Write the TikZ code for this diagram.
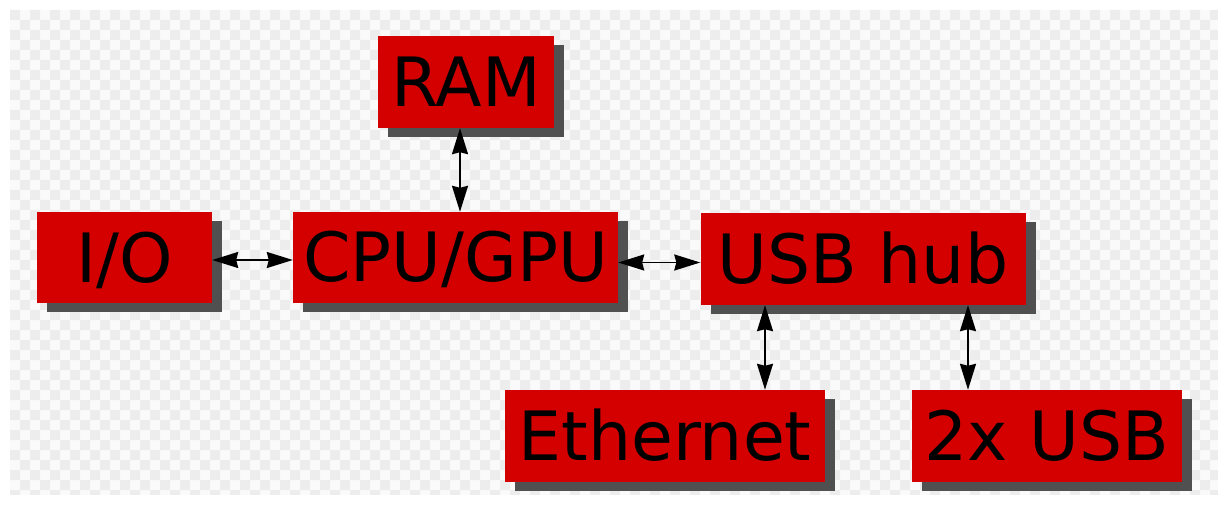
\documentclass[tikz,border=0pt]{standalone}
\usepackage{fontspec}
\setmainfont{DejaVu Sans}
\usetikzlibrary{arrows.meta,shadows}
\definecolor{boxred}{RGB}{212,0,0}
\definecolor{shadowgray}{RGB}{80,80,80}
\definecolor{checklight}{RGB}{250,250,250}
\definecolor{checkdark}{RGB}{237,237,237}
\tikzset{
  blockbox/.style={fill=boxred, draw=none, inner sep=0pt,
    font=\fontsize{68}{68}\selectfont, text=black,
    text height=49pt, text depth=0pt,
    general shadow={shadow xshift=10pt, shadow yshift=-9pt, fill=shadowgray}},
  biarrow/.style={line width=1.8pt, draw=black,
    {Stealth[length=26pt,width=16pt,inset=2pt]}-{Stealth[length=26pt,width=16pt,inset=2pt]}}
}
\begin{document}
\begin{tikzpicture}[x=1pt,y=-1pt]
\useasboundingbox (0,0) rectangle (1227,505);
\fill[white] (0,0) rectangle (1227,505);
\fill[checklight] (10,10) rectangle (1218,495);
\fill[checkdark] \foreach \i in {0,2,...,120} { \foreach \j in {0,2,...,48} {
  (10+\i*10,10+\j*10) rectangle ++(10,10)
  (20+\i*10,20+\j*10) rectangle ++(10,10)
} };
\fill[white] (1218,0) rectangle (1227,505);
\fill[white] (0,495) rectangle (1227,505);

\node[blockbox, minimum width=176pt, minimum height=92pt] (ram) at (466,82) {RAM};
\node[blockbox, minimum width=175pt, minimum height=91pt] (io) at (124.5,258) {I/O};
\node[blockbox, minimum width=325pt, minimum height=91pt] (cpu) at (455.5,257.5) {CPU/GPU};
\node[blockbox, minimum width=325pt, minimum height=92pt] (usbhub) at (863,259) {USB hub};
\node[blockbox, minimum width=320pt, minimum height=92pt] (ethernet) at (665,436) {Ethernet};
\node[blockbox, minimum width=270pt, minimum height=92pt] (usb) at (1047,436) {2x USB};

\draw[biarrow] ([xshift=-6pt]ram.south) -- ([xshift=-6pt]ram.south |- cpu.north);
\draw[biarrow] ([yshift=-2pt]io.east) -- ([yshift=-2pt]io.east -| cpu.west);
\draw[biarrow] ([yshift=-5pt]cpu.east) -- ([yshift=-5pt]cpu.east -| usbhub.west);
\draw[biarrow] ([xshift=-98pt]usbhub.south) -- ([xshift=-98pt]usbhub.south |- ethernet.north);
\draw[biarrow] ([xshift=105pt]usbhub.south) -- ([xshift=105pt]usbhub.south |- usb.north);
\end{tikzpicture}
\end{document}
